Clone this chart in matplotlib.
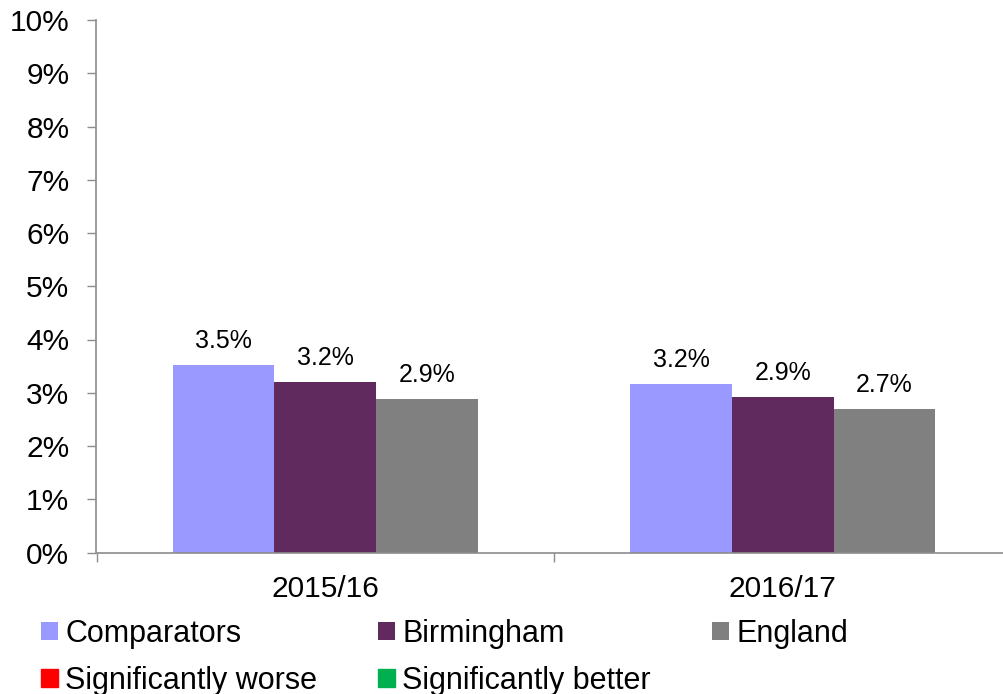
import matplotlib
matplotlib.use("Agg")
import matplotlib.pyplot as plt
from matplotlib.patches import Patch
import numpy as np

plt.rcParams['font.family'] = ['Liberation Sans', 'DejaVu Sans']

categories = ["2015/16", "2016/17"]
series_names = ["Comparators", "Birmingham", "England"]
comparators = [3.52, 3.16]
birmingham = [3.20, 2.92]
england = [2.89, 2.69]
value_labels = [["3.5%", "3.2%"], ["3.2%", "2.9%"], ["2.9%", "2.7%"]]
y_ticks = list(range(0, 11))
extra_legend = ["Significantly worse", "Significantly better"]

colors = ["#9999FF", "#612A5F", "#808080"]
extra_colors = ["#FF0000", "#00B050"]
axis_color = "#8C8C8C"

W, H = 1004, 694
fig = plt.figure(figsize=(W / 100, H / 100), dpi=100)
left, right = 96.5 / W, 1011.5 / W
bottom, top = (H - 552.5) / H, (H - 20) / H
ax = fig.add_axes([left, bottom, right - left, top - bottom])

x = np.arange(len(categories))
bw = 0.222
handles = []
for i, (vals, name, c) in enumerate(zip([comparators, birmingham, england], series_names, colors)):
    bars = ax.bar(x + (i - 1) * bw, vals, width=bw, color=c, label=name, zorder=2)
    ax.bar_label(bars, labels=value_labels[i], padding=8.5, fontsize=18)
    handles.append(bars)

ax.set_xlim(-0.5, len(categories) - 0.5)
ax.set_ylim(0, 10)
ax.set_yticks(y_ticks)
ax.set_yticklabels([f"{t}%" for t in y_ticks], fontsize=21.5)
ax.set_xticks(x)
ax.set_xticklabels(categories, fontsize=21.5)
ax.set_xticks(np.arange(-0.5, len(categories) + 0.5, 1.0), minor=True)
ax.tick_params(axis='x', which='major', length=0, pad=16)
ax.tick_params(axis='x', which='minor', length=6.5, width=1, color=axis_color, direction='out')
ax.tick_params(axis='y', length=6.5, width=1, color=axis_color, pad=13)

for s in ['top', 'right']:
    ax.spines[s].set_visible(False)
for s in ['left', 'bottom']:
    ax.spines[s].set_color(axis_color)
    ax.spines[s].set_linewidth(1.2)

extra = [Patch(color=c, label=l) for c, l in zip(extra_colors, extra_legend)]
leg_handles = [handles[0], extra[0], handles[1], extra[1], handles[2]]
leg_labels = [series_names[0], extra_legend[0], series_names[1], extra_legend[1], series_names[2]]
fig.legend(leg_handles, leg_labels, ncol=3, loc='upper left',
           bbox_to_anchor=(41 / W, 1 - 619 / H), frameon=False, fontsize=22,
           handlelength=0.55, handleheight=0.55, handletextpad=0.24,
           columnspacing=2.0, labelspacing=0.55, borderpad=0, borderaxespad=0)

fig.savefig("out.png", dpi=100)
